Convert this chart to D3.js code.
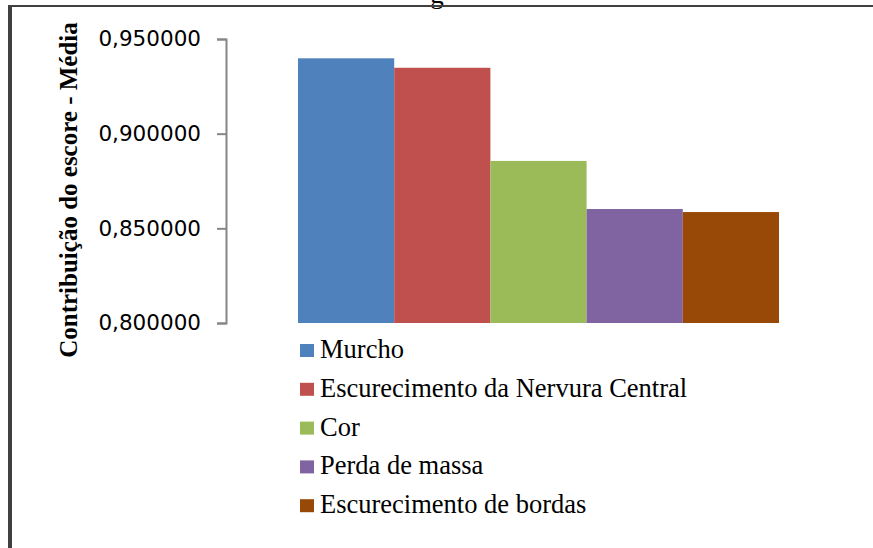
<!DOCTYPE html>
<style>
  body { margin: 0; background: #fff; }
  svg { display: block; }
  .tick text { font-family: 'DejaVu Sans', sans-serif; font-size: 21.5px; fill: #000; }
  .axis path, .axis line { stroke: #868686; stroke-width: 2; }
  .ytitle { font-family: 'Liberation Serif', serif; font-weight: bold; font-size: 25px; }
  .legend text { font-family: 'Liberation Serif', serif; font-size: 26.5px; }
</style>
<body>
</body>
<script src="https://cdn.jsdelivr.net/npm/d3@7"></script>
<script>
  const w = 873, h = 548;

  const categories = ['Murcho', 'Escurecimento da Nervura Central', 'Cor', 'Perda de massa', 'Escurecimento de bordas'];
  const values = [0.9398, 0.9348, 0.8856, 0.8602, 0.8586];
  const colors = ['#4f81bd', '#c0504d', '#9bbb59', '#8064a2', '#984807'];
  const yTicks = [0.80, 0.85, 0.90, 0.95];

  const svg = d3.select('body').append('svg')
    .attr('width', w)
    .attr('height', h);

  // cut-off title above the frame
  svg.append('text')
    .attr('x', 437).attr('y', 3)
    .attr('text-anchor', 'middle')
    .style('font-family', 'Liberation Serif, serif')
    .style('font-size', '27px')
    .text('g');

  // frame (top + left only visible)
  svg.append('line').attr('x1', 8).attr('x2', w).attr('y1', 6).attr('y2', 6)
    .attr('stroke', '#404040').attr('stroke-width', 2);
  svg.append('line').attr('x1', 10).attr('x2', 10).attr('y1', 5).attr('y2', h)
    .attr('stroke', '#404040').attr('stroke-width', 4);

  const x = d3.scaleBand().domain(categories).range([298, 779]).padding(0);
  const y = d3.scaleLinear().domain([0.80, 0.95]).range([323, 39]);

  const fmt = d => d3.format('.6f')(d).replace('.', ',');

  svg.append('g')
    .attr('class', 'axis')
    .attr('transform', 'translate(226,0)')
    .call(d3.axisLeft(y).tickValues(yTicks).tickFormat(fmt).tickSize(9).tickSizeOuter(9).tickPadding(16));

  svg.append('g')
    .selectAll('rect')
    .data(categories)
    .join('rect')
    .attr('x', d => x(d))
    .attr('width', x.bandwidth())
    .attr('y', (d, i) => y(values[i]))
    .attr('height', (d, i) => y(0.80) - y(values[i]))
    .attr('fill', (d, i) => colors[i]);

  svg.append('text')
    .attr('class', 'ytitle')
    .attr('transform', 'translate(77,190) rotate(-90)')
    .attr('text-anchor', 'middle')
    .text('Contribuição do escore - Média');

  const legend = svg.append('g').attr('class', 'legend')
    .selectAll('g')
    .data(categories)
    .join('g')
    .attr('transform', (d, i) => `translate(300,${358 + i * 38.8})`);
  legend.append('rect')
    .attr('x', 0).attr('y', -14).attr('width', 14).attr('height', 13)
    .attr('fill', (d, i) => colors[i]);
  legend.append('text')
    .attr('x', 20).attr('y', 0)
    .text(d => d);
</script>
